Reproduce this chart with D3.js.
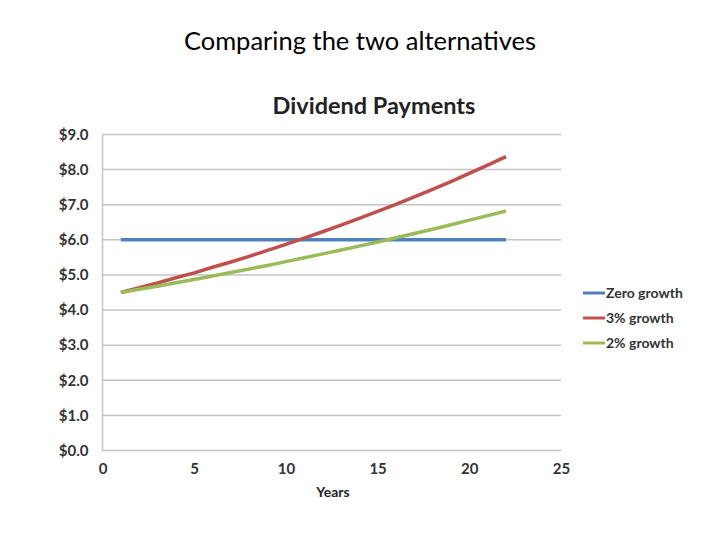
<!DOCTYPE html>
<html><head><meta charset="utf-8">
<script src="https://cdn.jsdelivr.net/npm/d3@7"></script>
<style>body{margin:0;background:#fff}svg{display:block}</style>
</head><body>
<svg id="c" width="720" height="540"></svg>
<script>
const years = [1,2,3,4,5,6,7,8,9,10,11,12,13,14,15,16,17,18,19,20,21,22];
const zeroGrowth = [6,6,6,6,6,6,6,6,6,6,6,6,6,6,6,6,6,6,6,6,6,6];
const growth3 = [4.50,4.64,4.77,4.92,5.06,5.22,5.37,5.53,5.70,5.87,6.05,6.23,6.42,6.61,6.81,7.01,7.22,7.44,7.66,7.89,8.13,8.37];
const growth2 = [4.50,4.59,4.68,4.78,4.87,4.97,5.07,5.17,5.27,5.38,5.49,5.60,5.71,5.82,5.94,6.06,6.18,6.30,6.43,6.56,6.69,6.82];
const seriesNames = ["Zero growth","3% growth","2% growth"];
const xTicks = [0,5,10,15,20,25];
const yTicks = [0,1,2,3,4,5,6,7,8,9];

const colors = ["#4F81BD","#C0504D","#9BBB59"];
const font = "Lato, 'Open Sans', sans-serif";
const svg = d3.select("#c");
const x = d3.scaleLinear().domain([0,25]).range([102.5,561]);
const y = d3.scaleLinear().domain([0,9]).range([450.5,134.5]);

svg.append("text").attr("x",360).attr("y",50).attr("text-anchor","middle")
  .attr("font-family",font).attr("font-size",25.5).attr("fill","#000").text("Comparing the two alternatives");
svg.append("text").attr("x",374).attr("y",114).attr("text-anchor","middle")
  .attr("font-family",font).attr("font-weight","bold").attr("font-size",23.5).attr("fill","#222").text("Dividend Payments");

// grid
svg.append("g").selectAll("line").data(yTicks).join("line")
  .attr("x1",x(0)).attr("x2",x(25)).attr("y1",d=>y(d)).attr("y2",d=>y(d))
  .attr("stroke","#c4c4c4").attr("stroke-width",1.5);
svg.append("line").attr("x1",x(0)).attr("x2",x(0)).attr("y1",y(0)).attr("y2",y(9))
  .attr("stroke","#c4c4c4").attr("stroke-width",1.5);

const yAxis = d3.axisLeft(y).tickValues(yTicks).tickSize(0).tickPadding(14).tickFormat(d=>"$"+d.toFixed(1));
const gy = svg.append("g").attr("transform",`translate(${x(0)},0)`).call(yAxis);
gy.select(".domain").remove();
gy.selectAll("text").attr("font-family",font).attr("font-size",15).attr("font-weight","bold").attr("fill","#333");

const xAxis = d3.axisBottom(x).tickValues(xTicks).tickSize(0).tickPadding(13);
const gx = svg.append("g").attr("transform",`translate(0,${y(0)})`).call(xAxis);
gx.select(".domain").remove();
gx.selectAll("text").attr("font-family",font).attr("font-size",15).attr("font-weight","bold").attr("fill","#333");

svg.append("text").attr("x",333).attr("y",497).attr("text-anchor","middle")
  .attr("font-family",font).attr("font-weight","bold").attr("font-size",14).attr("fill","#222").text("Years");

const data = [zeroGrowth, growth3, growth2];
const line = d3.line().x((d,i)=>x(years[i])).y(d=>y(d));
svg.append("g").selectAll("path").data(data).join("path")
  .attr("d",line).attr("fill","none").attr("stroke",(d,i)=>colors[i]).attr("stroke-width",3.5);

const lg = svg.append("g").selectAll("g").data(seriesNames).join("g")
  .attr("transform",(d,i)=>`translate(583,${293+i*25})`);
lg.append("line").attr("x1",0).attr("x2",22).attr("stroke",(d,i)=>colors[i]).attr("stroke-width",3);
lg.append("text").attr("x",23).attr("y",5).attr("font-family",font).attr("font-size",14)
  .attr("font-weight","bold").attr("fill","#333").text(d=>d);
</script>
</body></html>
